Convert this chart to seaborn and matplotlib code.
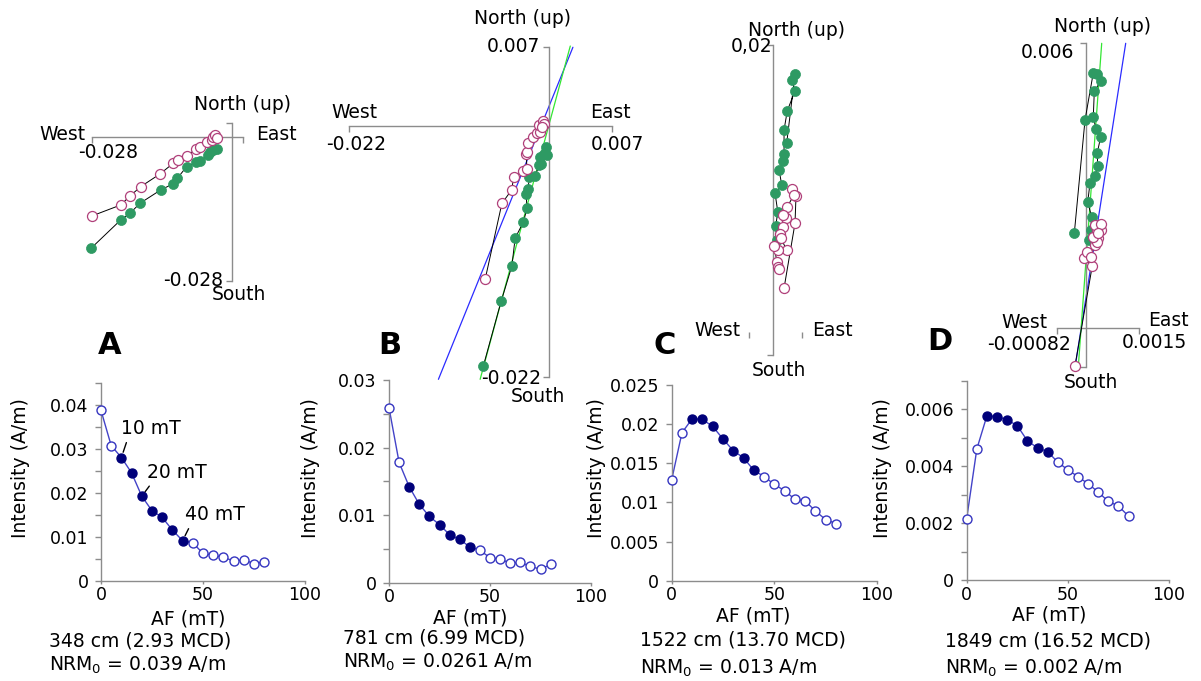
import matplotlib
matplotlib.use("Agg")
import matplotlib.pyplot as plt
import pandas as pd
import seaborn as sns

# ---------------- data ----------------
# AF demagnetisation steps (mT), same for all four samples
af_steps = [0, 5, 10, 15, 20, 25, 30, 35, 40, 45, 50, 55, 60, 65, 70, 75, 80]
# steps used for the ChRM fit (drawn as filled symbols)
fit_steps = [10, 15, 20, 25, 30, 35, 40]

intensity_a = [0.0387, 0.0307, 0.0280, 0.0245, 0.0192, 0.0159, 0.0144, 0.0115, 0.0091,
               0.0086, 0.0062, 0.0058, 0.0053, 0.0045, 0.0047, 0.0039, 0.0043]
intensity_b = [0.0259, 0.0178, 0.0142, 0.0116, 0.0098, 0.0086, 0.0071, 0.0064, 0.0053,
               0.0048, 0.0037, 0.0035, 0.0029, 0.0030, 0.0024, 0.0020, 0.0027]
intensity_c = [0.0129, 0.0189, 0.0207, 0.0206, 0.0197, 0.0181, 0.0166, 0.0157, 0.0141,
               0.0133, 0.0123, 0.0115, 0.0104, 0.0102, 0.0089, 0.0078, 0.0073]
intensity_d = [0.00216, 0.0046, 0.00577, 0.00574, 0.00563, 0.00542, 0.00489, 0.00464, 0.00451,
               0.00414, 0.00387, 0.00363, 0.00338, 0.00309, 0.00276, 0.00260, 0.00224]

# Zijderveld diagrams: horizontal projection (filled green) and vertical projection (open pink)
zij_a_h_x = [-0.02813, -0.02222, -0.02037, -0.01838, -0.01426, -0.01187, -0.01095, -0.00908,
             -0.00723, -0.00643, -0.00478, -0.00444, -0.00378, -0.00311]
zij_a_h_y = [-0.02170, -0.01619, -0.01489, -0.01295, -0.01036, -0.00920, -0.00809, -0.00583,
             -0.00498, -0.00472, -0.00356, -0.00292, -0.00259, -0.00233]
zij_a_v_x = [-0.02799, -0.02222, -0.02037, -0.01824, -0.01440, -0.01175, -0.01087, -0.00908,
             -0.00729, -0.00643, -0.00510, -0.00410, -0.00378, -0.00344, -0.00311]
zij_a_v_y = [-0.01542, -0.01328, -0.01153, -0.00972, -0.00725, -0.00517, -0.00453, -0.00375,
             -0.00245, -0.00206, -0.00097, -0.00064, 0.0, 0.00033, -0.00031]

zij_b_h_x = [-0.00718, -0.00522, -0.00404, -0.00368, -0.00276, -0.00238, -0.00246, -0.00227,
             -0.00210, -0.00147, -0.00103, -0.00081, -0.00092, -0.00047, -0.00029, -0.00018]
zij_b_h_y = [-0.02104, -0.01536, -0.01227, -0.00983, -0.00839, -0.00721, -0.00594, -0.00550,
             -0.00448, -0.00433, -0.00344, -0.00329, -0.00271, -0.00247, -0.00183, -0.00256]
zij_b_v_x = [-0.00699, -0.00514, -0.00404, -0.00386, -0.00276, -0.00238, -0.00246, -0.00232,
             -0.00221, -0.00166, -0.00128, -0.00092, -0.00103, -0.00062, -0.00047, -0.00073]
zij_b_v_y = [-0.01345, -0.00677, -0.00556, -0.00448, -0.00389, -0.00374, -0.00241, -0.00227,
             -0.00147, -0.00094, -0.00059, -0.00050, 0.00009, 0.00047, 0.00018, -0.00006]
zij_b_fit_blue_x = [-0.01214, 0.00269]
zij_b_fit_blue_y = [-0.02223, 0.00695]
zij_b_fit_green_x = [-0.00754, 0.00240]
zij_b_fit_green_y = [-0.02223, 0.00706]

zij_c_h_x = [0.00095, 0.00153, 0.00130, 0.00153, 0.00099, 0.00076, 0.00076, 0.00071,
             0.00041, 0.00060, 0.00013, 0.00032, 0.00018, 0.00025]
zij_c_h_y = [0.01318, 0.01798, 0.01756, 0.01679, 0.01542, 0.01407, 0.01238, 0.01191,
             0.01128, 0.01023, 0.00965, 0.00837, 0.00737, 0.00640]
zij_c_v_x = [0.00076, 0.00153, 0.00160, 0.00130, 0.00146, 0.00099, 0.00090, 0.00067, 0.00071,
             0.00048, 0.00053, 0.00095, 0.00032, 0.00008, 0.00025, 0.00036, 0.00043]
zij_c_v_y = [0.00303, 0.00756, 0.00947, 0.00993, 0.00954, 0.00872, 0.00791, 0.00814, 0.00732,
             0.00682, 0.00652, 0.00570, 0.00570, 0.00598, 0.00488, 0.00449, 0.00435]

zij_d_h_x = [-0.000326, -0.000025, 0.000208, 0.00032, 0.000416, 0.000236, 0.000208, 0.000284,
             0.000416, 0.00032, 0.000331, 0.000256, 0.000115, 0.000051, 0.000163, 0.000135, 0.000096]
zij_d_h_y = [0.00199, 0.00438, 0.00538, 0.00535, 0.00520, 0.00499, 0.00445, 0.00419,
             0.00403, 0.00369, 0.00341, 0.00321, 0.00305, 0.00265, 0.00234, 0.00206, 0.00185]
zij_d_v_x = [-0.000306, 0.00018, -0.000053, 0.000022, 0.000135, 0.000256, 0.000348, 0.000303,
             0.000208, 0.000416, 0.000303, 0.000256, 0.000416, 0.000348]
zij_d_v_y = [-0.00080, 0.00131, 0.00147, 0.00160, 0.00150, 0.00175, 0.00189, 0.00182,
             0.00192, 0.00206, 0.00206, 0.00217, 0.00219, 0.00199]
zij_d_fit_blue_x = [-0.000287, 0.001118]
zij_d_fit_blue_y = [-0.00075, 0.006]
zij_d_fit_green_x = [-0.000213, 0.000444]
zij_d_fit_green_y = [-0.00082, 0.006]

# ---------------- style ----------------
sns.set_style("white")
plt.rcParams["font.family"] = ["DejaVu Sans"]
plt.rcParams["mathtext.fontset"] = "dejavusans"
plt.rcParams["text.color"] = "black"

W, H = 1201, 681
axis_gray = "#8c8c8c"
line_blue = "#4343c8"
open_blue = "#3535c0"
navy = "#00007a"
zij_green = "#2e9a63"
zij_pink = "#b0407a"
label_size = 13.5
tick_size = 12.5

fig = plt.figure(figsize=(W / 100, H / 100), dpi=100)


def px_rect(x0, y0, x1, y1):
    # pixel box (y downwards) -> figure fraction rect
    return [x0 / W, 1 - y1 / H, (x1 - x0) / W, (y1 - y0) / H]


def fig_text(x, y, s, **kw):
    kw.setdefault("fontsize", label_size)
    kw.setdefault("ha", "center")
    kw.setdefault("va", "center")
    fig.text(x / W, 1 - y / H, s, **kw)


def intensity_panel(rect, values, ymax, major, minor):
    ax = fig.add_axes(rect)
    ax.set_facecolor("none")
    df = pd.DataFrame({"af": af_steps, "intensity": values})
    df["used"] = df["af"].isin(fit_steps)
    sns.lineplot(data=df, x="af", y="intensity", sort=False, estimator=None,
                 color=line_blue, lw=1, ax=ax, zorder=2)
    sns.scatterplot(data=df[~df["used"]], x="af", y="intensity", s=42, facecolor="white",
                    edgecolor=open_blue, linewidth=1, ax=ax, zorder=3, clip_on=False)
    sns.scatterplot(data=df[df["used"]], x="af", y="intensity", s=42, color=navy,
                    edgecolor=navy, linewidth=1, ax=ax, zorder=3, clip_on=False)
    ax.set_xlim(0, 100)
    ax.set_ylim(0, ymax)
    ax.set_xticks([0, 50, 100])
    ax.set_yticks(major)
    ax.set_yticklabels([f"{v:g}" for v in major])
    ax.set_yticks(minor, minor=True)
    ax.set_xlabel("")
    ax.set_ylabel("")
    for side in ["top", "right"]:
        ax.spines[side].set_visible(False)
    for side in ["left", "bottom"]:
        ax.spines[side].set_color(axis_gray)
        ax.spines[side].set_linewidth(1)
    ax.tick_params(which="both", direction="out", length=4, width=1, color=axis_gray,
                   labelsize=tick_size, labelcolor="black", left=True, bottom=True)
    ax.tick_params(axis="y", pad=5)
    ax.tick_params(axis="x", length=2, pad=2)
    return ax


def zij_panel(rect, xlim, ylim, hx, hy, vx, vy, fits=(), hide_horizontal=False):
    ax = fig.add_axes(rect)
    ax.set_facecolor("none")
    ax.set_xlim(xlim)
    ax.set_ylim(ylim)
    for side in ["top", "right"]:
        ax.spines[side].set_visible(False)
    for side in ["left", "bottom"]:
        ax.spines[side].set_position(("data", 0))
        ax.spines[side].set_color(axis_gray)
        ax.spines[side].set_linewidth(1)
    if hide_horizontal:
        ax.spines["bottom"].set_visible(False)
    ax.set_xticks(list(xlim))
    ax.set_yticks(list(ylim))
    ax.set_xticklabels([])
    ax.set_yticklabels([])
    ax.tick_params(direction="out", length=4, width=1, color=axis_gray, left=True, bottom=True)
    for fx, fy, col in fits:
        ax.plot(fx, fy, color=col, lw=0.9, clip_on=False, zorder=2)
    sns.lineplot(x=hx, y=hy, sort=False, estimator=None, color="black", lw=0.7, ax=ax, zorder=3)
    sns.lineplot(x=vx, y=vy, sort=False, estimator=None, color="black", lw=0.7, ax=ax, zorder=3)
    sns.scatterplot(x=hx, y=hy, s=52, color=zij_green, edgecolor=zij_green, linewidth=0.5,
                    ax=ax, zorder=4, clip_on=False)
    sns.scatterplot(x=vx, y=vy, s=52, facecolor="white", edgecolor=zij_pink, linewidth=0.9,
                    ax=ax, zorder=4, clip_on=False)
    ax.set_xlabel("")
    ax.set_ylabel("")
    return ax


# ---------------- intensity decay plots ----------------
ax_a = intensity_panel(px_rect(101, 382.7, 305, 580.7), intensity_a, 0.045,
                       [0, 0.01, 0.02, 0.03, 0.04], [0.005, 0.015, 0.025, 0.035, 0.045])
intensity_panel(px_rect(389, 380, 591, 582.7), intensity_b, 0.03,
                [0, 0.01, 0.02, 0.03], [0.005, 0.015, 0.025])
intensity_panel(px_rect(671.7, 385, 877, 580.7), intensity_c, 0.025,
                [0, 0.005, 0.01, 0.015, 0.02, 0.025], [])
intensity_panel(px_rect(966.7, 380.7, 1169, 580), intensity_d, 0.007,
                [0, 0.002, 0.004, 0.006], [0.001, 0.003, 0.005, 0.007])

# step annotations on panel A
for step, dx, dy in [(10, 0, 29), (20, 5, 24), (40, 2, 26)]:
    val = intensity_a[af_steps.index(step)]
    ax_a.annotate(f"{step} mT", xy=(step, val), xytext=(dx, dy), textcoords="offset pixels",
                  ha="left", va="center", fontsize=label_size,
                  arrowprops=dict(arrowstyle="-", color="black", lw=1, shrinkA=1, shrinkB=4,
                                  relpos=(0.12, 0.1)))

# ---------------- Zijderveld diagrams ----------------
zij_panel(px_rect(91.7, 123.3, 243.3, 280.7), (-0.028, 0.0022), (-0.028, 0.0026),
          zij_a_h_x, zij_a_h_y, zij_a_v_x, zij_a_v_y)
zij_panel(px_rect(349, 46.7, 612, 376.7), (-0.022, 0.007), (-0.022, 0.007),
          zij_b_h_x, zij_b_h_y, zij_b_v_x, zij_b_v_y,
          fits=[(zij_b_fit_blue_x, zij_b_fit_blue_y, "#2b2bff"),
                (zij_b_fit_green_x, zij_b_fit_green_y, "#33e633")])
zij_panel(px_rect(749, 45, 801.7, 355), (-0.0017, 0.002), (-0.00163, 0.02),
          zij_c_h_x, zij_c_h_y, zij_c_v_x, zij_c_v_y, hide_horizontal=True)
zij_panel(px_rect(1056.7, 43.3, 1139.3, 366.7), (-0.00082, 0.0015), (-0.00082, 0.006),
          zij_d_h_x, zij_d_h_y, zij_d_v_x, zij_d_v_y,
          fits=[(zij_d_fit_blue_x, zij_d_fit_blue_y, "#2b2bff"),
                (zij_d_fit_green_x, zij_d_fit_green_y, "#33e633")])

# Zijderveld axis labels
fig_text(243, 105, "North (up)")
fig_text(62, 134, "West")
fig_text(276, 134, "East")
fig_text(108, 152, "-0.028")
fig_text(193, 280, "-0.028")
fig_text(239, 295, "South")

fig_text(523, 18, "North (up)")
fig_text(513, 46, "0.007")
fig_text(354, 112, "West")
fig_text(610, 112, "East")
fig_text(356, 145, "-0.022")
fig_text(617, 145, "0.007")
fig_text(511, 378, "-0.022")
fig_text(538, 397, "South")

fig_text(797, 30, "North (up)")
fig_text(752, 47, "0,02")
fig_text(717, 331, "West")
fig_text(832, 331, "East")
fig_text(779, 370, "South")

fig_text(1102, 27, "North (up)")
fig_text(1047, 52, "0.006")
fig_text(1024, 323, "West")
fig_text(1168, 320, "East")
fig_text(1029, 344, "-0.00082")
fig_text(1154, 342, "0.0015")
fig_text(1091, 382, "South")

# panel letters
for letter, x, y in [("A", 110, 346), ("B", 390, 345), ("C", 665, 346), ("D", 940, 342)]:
    fig_text(x, y, letter, fontsize=22, fontweight="bold")

# axis titles and sample captions
for x in [21, 310, 596, 883]:
    fig_text(x, 468, "Intensity (A/m)", rotation=90)
for x, y in [(188, 619), (470, 618), (753, 616), (1049, 615)]:
    fig_text(x, y, "AF (mT)")

captions = [
    (49, 641, 665, "348 cm (2.93 MCD)", "NRM$_0$ = 0.039 A/m"),
    (343, 638, 662, "781 cm (6.99 MCD)", "NRM$_0$ = 0.0261 A/m"),
    (640, 640, 668, "1522 cm (13.70 MCD)", "NRM$_0$ = 0.013 A/m"),
    (945, 641, 668, "1849 cm (16.52 MCD)", "NRM$_0$ = 0.002 A/m"),
]
for x, y1, y2, depth, nrm in captions:
    fig_text(x, y1, depth, ha="left")
    fig_text(x, y2, nrm, ha="left")

fig.savefig("out.png", dpi=100)
